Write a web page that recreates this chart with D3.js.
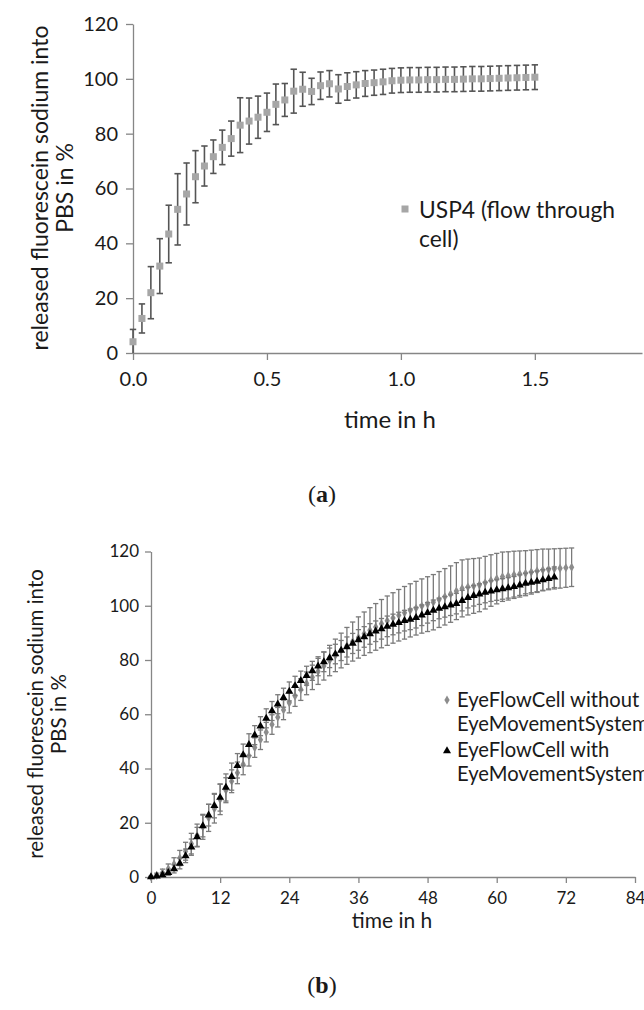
<!DOCTYPE html>
<html>
<head>
<meta charset="utf-8">
<script src="https://cdn.jsdelivr.net/npm/d3@7"></script>
<style>
  body { margin: 0; background: #fff; }
  svg { display: block; }
  text { font-family: Lato, "Open Sans", sans-serif; }
</style>
</head>
<body>
<svg id="fig" width="644" height="1010"></svg>
<script>
// ---------- (a) USP4 flow-through cell: sampling every 2 min ----------
const usp4Minutes = [0, 2, 4, 6, 8, 10, 12, 14, 16, 18, 20, 22, 24, 26, 28, 30, 32, 34, 36, 38,
  40, 42, 44, 46, 48, 50, 52, 54, 56, 58, 60, 62, 64, 66, 68, 70, 72, 74, 76, 78,
  80, 82, 84, 86, 88, 90];
const usp4Release = [4.1, 12.6, 22.0, 31.7, 43.4, 52.4, 58.0, 64.3, 68.2, 71.6,
  75.0, 78.2, 83.1, 84.6, 86.0, 87.8, 90.7, 92.3, 95.5, 96.2,
  95.4, 97.5, 98.2, 96.3, 97.2, 97.8, 98.3, 98.6, 98.9, 99.3,
  99.5, 99.6, 99.6, 99.7, 99.7, 99.8, 99.8, 99.9, 100.0, 100.0,
  100.1, 100.2, 100.3, 100.4, 100.5, 100.6];
const usp4Sd = [4.5, 5.3, 9.5, 10.0, 10.5, 13.0, 11.3, 9.5, 7.3, 6.1,
  6.3, 6.4, 10.0, 8.4, 7.7, 7.0, 7.4, 6.0, 8.0, 6.2,
  4.8, 5.0, 4.8, 5.2, 5.0, 4.8, 4.7, 4.6, 4.6, 4.5,
  4.5, 4.5, 4.5, 4.5, 4.5, 4.5, 4.5, 4.5, 4.5, 4.5,
  4.5, 4.5, 4.5, 4.5, 4.5, 4.5];

// ---------- (b) EyeFlowCell: hourly sampling ----------
const eyeHours = [0, 1, 2, 3, 4, 5, 6, 7, 8, 9, 10, 11, 12, 13, 14, 15, 16, 17, 18, 19,
  20, 21, 22, 23, 24, 25, 26, 27, 28, 29, 30, 31, 32, 33, 34, 35, 36, 37, 38, 39,
  40, 41, 42, 43, 44, 45, 46, 47, 48, 49, 50, 51, 52, 53, 54, 55, 56, 57, 58, 59,
  60, 61, 62, 63, 64, 65, 66, 67, 68, 69, 70, 71, 72, 73];

// without EyeMovementSystem (grey diamonds), 0–73 h
const withoutEmsRelease = [0.0, 0.6, 1.6, 3.0, 4.8, 7.0, 9.5, 12.3, 15.3, 18.5,
  21.8, 25.2, 28.6, 32.0, 35.3, 38.4, 41.5, 44.6, 47.7, 50.6,
  53.4, 56.2, 58.9, 61.6, 64.2, 66.7, 69.1, 71.4, 73.6, 75.8,
  77.8, 79.8, 81.7, 83.5, 85.2, 86.8, 88.3, 89.7, 91.0, 92.2,
  93.4, 94.5, 95.5, 96.5, 97.4, 98.3, 99.1, 99.9, 100.6, 101.3,
  102.3, 103.3, 104.3, 105.4, 106.4, 106.9, 107.3, 107.7, 108.5, 109.3,
  110.0, 110.7, 111.0, 111.4, 111.7, 112.0, 112.4, 112.8, 113.2, 113.4,
  113.6, 113.8, 114.0, 114.2];
const withoutEmsSd = [0.3, 0.8, 1.3, 1.8, 2.3, 2.8, 3.3, 3.8, 4.2, 4.6,
  5.0, 5.3, 5.6, 4.6, 4.2, 4.0, 3.8, 3.7, 3.6, 3.6,
  3.6, 3.6, 3.6, 3.6, 3.7, 3.8, 4.0, 4.2, 4.5, 4.8,
  5.2, 5.6, 6.0, 6.4, 6.8, 7.2, 7.6, 8.0, 8.3, 8.6,
  8.9, 9.1, 9.3, 9.5, 9.7, 9.8, 9.9, 10.0, 10.1, 10.2,
  10.3, 10.4, 10.4, 10.5, 10.5, 10.3, 10.1, 9.9, 9.7, 9.5,
  9.3, 9.1, 8.9, 8.7, 8.5, 8.3, 8.1, 7.9, 7.7, 7.5,
  7.4, 7.3, 7.2, 7.1];

// with EyeMovementSystem (black triangles), 0–70 h
const withEmsRelease = [0.0, 0.3, 0.8, 1.6, 3.0, 5.0, 7.8, 11.0, 14.8, 18.8,
  22.8, 26.3, 29.3, 33.0, 37.0, 41.0, 45.0, 48.8, 52.3, 55.6,
  58.5, 61.2, 63.7, 66.1, 68.4, 70.5, 72.4, 74.2, 76.0, 77.7,
  79.3, 80.8, 82.2, 83.5, 84.8, 86.1, 87.4, 88.5, 89.6, 90.6,
  91.5, 92.4, 93.1, 93.8, 94.5, 95.0, 95.6, 96.5, 97.4, 98.3,
  99.0, 99.6, 100.2, 100.8, 101.9, 103.0, 103.7, 104.3, 104.9, 105.4,
  105.8, 106.2, 106.6, 107.0, 107.6, 108.2, 108.6, 109.0, 109.5, 110.0,
  110.5];
const withEmsSd = [0.2, 0.4, 0.7, 1.0, 1.5, 2.0, 2.5, 3.0, 3.5, 4.0,
  4.0, 4.5, 5.0, 5.0, 5.0, 4.5, 4.0, 4.0, 3.5, 3.5,
  3.5, 3.5, 3.5, 3.5, 3.5, 3.5, 3.5, 3.5, 3.5, 3.5,
  3.6, 3.6, 3.6, 3.7, 3.7, 3.7, 3.8, 3.8, 3.8, 3.8,
  3.8, 3.8, 3.8, 3.8, 3.8, 3.8, 3.8, 3.8, 3.8, 3.8,
  3.8, 3.8, 3.8, 3.8, 3.8, 3.8, 3.8, 3.8, 3.8, 3.8,
  3.8, 3.8, 3.8, 3.8, 3.8, 3.8, 3.8, 3.8, 3.8, 3.8,
  3.8];

// ---------- axis ticks and labels ----------
const releaseTicks = [0, 20, 40, 60, 80, 100, 120];
const usp4HourTicks = [0, 0.5, 1.0, 1.5];
const eyeHourTicks = [0, 12, 24, 36, 48, 60, 72, 84];
const yTitleLines = ["released fluorescein sodium into", "PBS in %"];
const xTitle = "time in h";
const usp4Legend = ["USP4 (flow through", "cell)"];
const withoutEmsLegend = ["EyeFlowCell without", "EyeMovementSystem"];
const withEmsLegend = ["EyeFlowCell with", "EyeMovementSystem"];

const svg = d3.select("#fig");
svg.append("rect").attr("width", 644).attr("height", 1010).attr("fill", "#fff");

const AXIS = "#868686";
const INK = "#1a1a1a";

function styleAxis(g, fontSize) {
  g.select(".domain").attr("stroke", AXIS).attr("stroke-width", 1.3);
  g.selectAll(".tick line").attr("stroke", AXIS).attr("stroke-width", 1.3);
  g.selectAll(".tick text").attr("fill", INK).attr("font-size", fontSize)
    .style("font-family", "Lato, 'Open Sans', sans-serif");
}

function errorBars(g, xs, ys, sd, x, y, capHalf, color, width) {
  const rows = xs.map((t, i) => ({ t, v: ys[i], s: sd[i] }));
  const grp = g.append("g").attr("stroke", color).attr("stroke-width", width).attr("fill", "none");
  rows.forEach(d => {
    const lo = y(Math.max(0, d.v - d.s)), hi = y(d.v + d.s), cx = x(d.t);
    grp.append("line").attr("x1", cx).attr("x2", cx).attr("y1", lo).attr("y2", hi);
    grp.append("line").attr("x1", cx - capHalf).attr("x2", cx + capHalf).attr("y1", hi).attr("y2", hi);
    if (d.v - d.s > 0)
      grp.append("line").attr("x1", cx - capHalf).attr("x2", cx + capHalf).attr("y1", lo).attr("y2", lo);
  });
}

function caption(g, cx, cy, letter) {
  const t = g.append("text").attr("x", cx).attr("y", cy).attr("text-anchor", "middle")
    .attr("font-size", 24).style("font-family", "'Liberation Serif', serif").attr("fill", INK);
  t.append("tspan").text("(");
  t.append("tspan").attr("font-weight", "bold").text(letter);
  t.append("tspan").text(")");
}

// ================= Panel (a) =================
{
  const x = d3.scaleLinear().domain([0, 1.9]).range([133, 642]);
  const y = d3.scaleLinear().domain([0, 120]).range([353, 24]);
  const g = svg.append("g");

  const yAxis = g.append("g").attr("transform", `translate(${x(0)},0)`)
    .call(d3.axisLeft(y).tickValues(releaseTicks).tickSize(7).tickSizeOuter(0).tickPadding(8)
      .tickFormat(d3.format("d")));
  styleAxis(yAxis, 20);

  const xAxis = g.append("g").attr("transform", `translate(0,${y(0)})`)
    .call(d3.axisBottom(x).tickValues(usp4HourTicks).tickSize(7).tickSizeOuter(0).tickPadding(12)
      .tickFormat(d3.format(".1f")));
  styleAxis(xAxis, 20);

  const hours = usp4Minutes.map(m => m / 60);
  errorBars(g, hours, usp4Release, usp4Sd, x, y, 3.2, "#555", 1.6);

  g.append("g").selectAll("rect").data(hours).join("rect")
    .attr("x", (d) => x(d) - 3.5).attr("y", (d, i) => y(usp4Release[i]) - 3.5)
    .attr("width", 7).attr("height", 7).attr("fill", "#a6a6a6");

  // y title
  const yt = g.append("text").attr("transform", "translate(53,188) rotate(-90)")
    .attr("text-anchor", "middle").attr("fill", INK).attr("font-size", 23);
  yTitleLines.forEach((s, i) => yt.append("tspan").attr("x", 0).attr("dy", i ? 25 : -5).text(s));

  g.append("text").attr("x", 390).attr("y", 428).attr("text-anchor", "middle")
    .attr("fill", INK).attr("font-size", 24).text(xTitle);

  // legend
  g.append("rect").attr("x", 401.5).attr("y", 205.5).attr("width", 7).attr("height", 7).attr("fill", "#a6a6a6");
  const lt = g.append("text").attr("y", 218).attr("fill", INK).attr("font-size", 22.8);
  usp4Legend.forEach((s, i) => lt.append("tspan").attr("x", 419).attr("dy", i ? 29 : 0).text(s));

  caption(g, 322, 502, "a");
}

// ================= Panel (b) =================
{
  const x = d3.scaleLinear().domain([0, 84]).range([151, 635]);
  const y = d3.scaleLinear().domain([0, 120]).range([877, 551.5]);
  const g = svg.append("g");

  const yAxis = g.append("g").attr("transform", `translate(${x(0)},0)`)
    .call(d3.axisLeft(y).tickValues(releaseTicks).tickSize(6).tickSizeOuter(0).tickPadding(6)
      .tickFormat(d3.format("d")));
  styleAxis(yAxis, 17);

  const xAxis = g.append("g").attr("transform", `translate(0,${y(0)})`)
    .call(d3.axisBottom(x).tickValues(eyeHourTicks).tickSize(6).tickSizeOuter(0).tickPadding(9)
      .tickFormat(d3.format("d")));
  styleAxis(xAxis, 17);

  const withoutHours = eyeHours.slice(0, withoutEmsRelease.length);
  const withHours = eyeHours.slice(0, withEmsRelease.length);

  errorBars(g, withoutHours, withoutEmsRelease, withoutEmsSd, x, y, 2.6, "#7a7a7a", 1.3);
  const diamond = d3.symbol().type(d3.symbolDiamond).size(24);
  g.append("g").selectAll("path").data(withoutHours).join("path")
    .attr("d", diamond)
    .attr("transform", (d, i) => `translate(${x(d)},${y(withoutEmsRelease[i])})`)
    .attr("fill", "#8c8c8c");

  errorBars(g, withHours, withEmsRelease, withEmsSd, x, y, 2.6, "#7a7a7a", 1.3);
  const tri = d3.symbol().type(d3.symbolTriangle).size(28);
  g.append("g").selectAll("path").data(withHours).join("path")
    .attr("d", tri)
    .attr("transform", (d, i) => `translate(${x(d)},${y(withEmsRelease[i])})`)
    .attr("fill", "#000");

  const yt = g.append("text").attr("transform", "translate(48,714) rotate(-90)")
    .attr("text-anchor", "middle").attr("fill", INK).attr("font-size", 20.5);
  yTitleLines.forEach((s, i) => yt.append("tspan").attr("x", 0).attr("dy", i ? 23 : -5).text(s));

  g.append("text").attr("x", 392).attr("y", 928).attr("text-anchor", "middle")
    .attr("fill", INK).attr("font-size", 21).text(xTitle);

  // legend
  g.append("path").attr("d", diamond).attr("transform", "translate(447,700)").attr("fill", "#8c8c8c");
  const l1 = g.append("text").attr("y", 707).attr("fill", INK).attr("font-size", 20.2);
  withoutEmsLegend.forEach((s, i) => l1.append("tspan").attr("x", 457).attr("dy", i ? 24 : 0).text(s));
  g.append("path").attr("d", tri).attr("transform", "translate(447,751)").attr("fill", "#000");
  const l2 = g.append("text").attr("y", 757).attr("fill", INK).attr("font-size", 20.2);
  withEmsLegend.forEach((s, i) => l2.append("tspan").attr("x", 457).attr("dy", i ? 24 : 0).text(s));

  caption(g, 322, 993, "b");
}
</script>
</body>
</html>
